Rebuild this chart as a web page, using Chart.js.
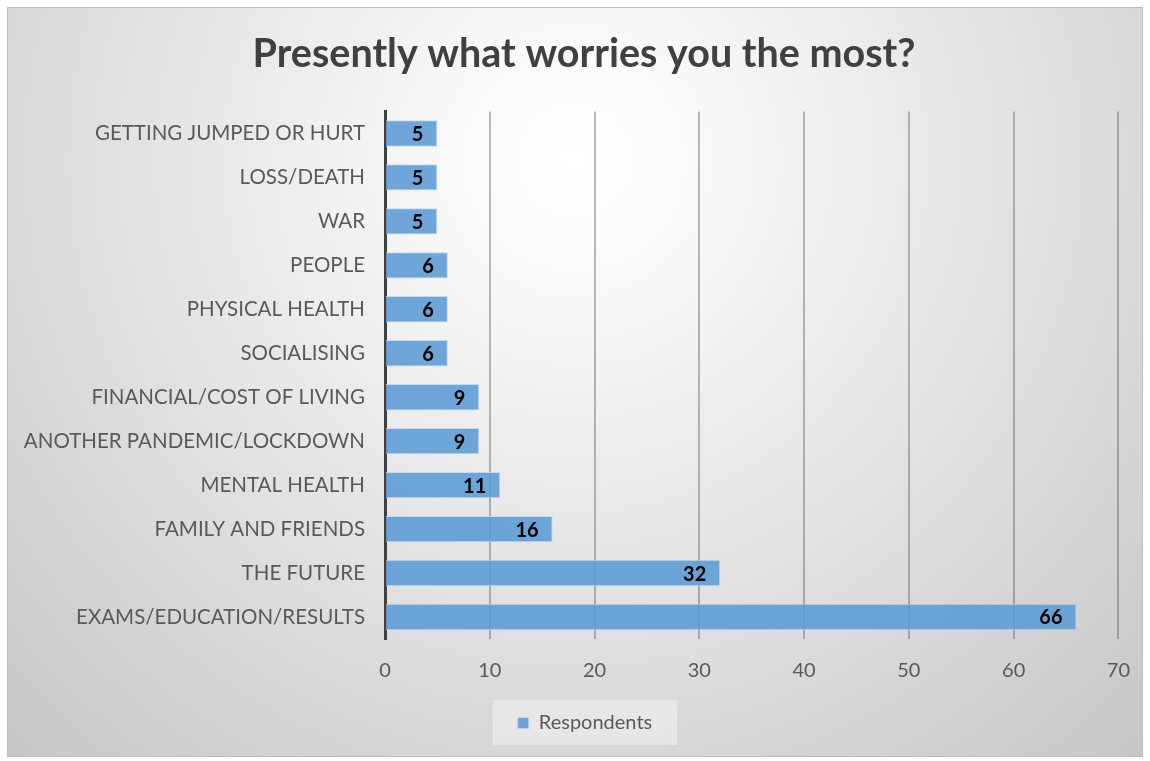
<!DOCTYPE html>
<html>
<head>
<meta charset="utf-8">
<script src="https://cdn.jsdelivr.net/npm/chart.js@4.4.0/dist/chart.umd.min.js"></script>
<style>
html,body{margin:0;padding:0;background:#fff;}
canvas{display:block;}
</style>
</head>
<body>
<canvas id="c" width="1150" height="761"></canvas>
<script>
const categories = [
  "GETTING JUMPED OR HURT",
  "LOSS/DEATH",
  "WAR",
  "PEOPLE",
  "PHYSICAL HEALTH",
  "SOCIALISING",
  "FINANCIAL/COST OF LIVING",
  "ANOTHER PANDEMIC/LOCKDOWN",
  "MENTAL HEALTH",
  "FAMILY AND FRIENDS",
  "THE FUTURE",
  "EXAMS/EDUCATION/RESULTS"
];
const respondents = [5, 5, 5, 6, 6, 6, 9, 9, 11, 16, 32, 66];
const seriesName = "Respondents";
const chartTitle = "Presently what worries you the most?";
const xMax = 70;
const xStep = 10;

const FONT = "Lato, 'Open Sans', sans-serif";
const TEXT = "#595959";

const bgPlugin = {
  id: 'bg',
  afterLayout(chart) {
    const lg = chart.legend;
    if (lg) { lg.left += 18; lg.right += 18; }
    const tb = chart.titleBlock;
    if (tb) { tb.left += 17; tb.right += 17; }
  },
  beforeDraw(chart) {
    const ctx = chart.ctx;
    ctx.save();
    ctx.fillStyle = '#ffffff';
    ctx.fillRect(0, 0, chart.width, chart.height);
    const g = ctx.createRadialGradient(575, 160, 0, 575, 160, 830);
    g.addColorStop(0, '#ffffff');
    g.addColorStop(0.12, '#fbfbfb');
    g.addColorStop(1, '#c6c6c6');
    ctx.fillStyle = g;
    ctx.fillRect(7, 7, 1136, 750);
    ctx.strokeStyle = '#bdbdbd';
    ctx.lineWidth = 1;
    ctx.strokeRect(7.5, 7.5, 1135, 749);
    const lg = chart.legend;
    if (lg && lg.legendHitBoxes && lg.legendHitBoxes.length) {
      const hb = lg.legendHitBoxes[0];
      ctx.fillStyle = 'rgba(235,235,235,0.75)';
      ctx.fillRect(hb.left - 25, hb.top - 13, hb.width + 50, hb.height + 25);
    }
    ctx.restore();
  }
};

const labelPlugin = {
  id: 'vals',
  afterDatasetsDraw(chart) {
    const ctx = chart.ctx;
    const meta = chart.getDatasetMeta(0);
    ctx.save();
    ctx.font = "bold 20px " + FONT;
    ctx.fillStyle = '#000000';
    ctx.textAlign = 'right';
    ctx.textBaseline = 'middle';
    meta.data.forEach((el, i) => {
      ctx.fillText(String(chart.data.datasets[0].data[i]), el.x - 14, el.y + 1);
    });
    ctx.restore();
  }
};

new Chart(document.getElementById('c'), {
  type: 'bar',
  data: {
    labels: categories,
    datasets: [{
      label: seriesName,
      data: respondents,
      backgroundColor: 'rgba(91,155,213,0.88)',
      borderColor: 'rgba(190,215,240,0.9)',
      borderWidth: 1,
      barPercentage: 0.6,
      categoryPercentage: 1.0
    }]
  },
  options: {
    indexAxis: 'y',
    responsive: false,
    animation: false,
    layout: { padding: { top: 7, left: 7, right: 23, bottom: 18 } },
    plugins: {
      title: {
        display: true,
        text: chartTitle,
        color: '#404040',
        font: { family: FONT, size: 39.5, weight: 'bold', lineHeight: 1.05 },
        padding: { top: 27, bottom: 36 }
      },
      legend: {
        display: true,
        position: 'bottom',
        labels: {
          color: TEXT,
          font: { family: FONT, size: 20 },
          boxWidth: 11,
          boxHeight: 11,
          padding: 10
        }
      },
      tooltip: { enabled: false }
    },
    scales: {
      x: {
        min: 0,
        max: xMax,
        ticks: { stepSize: xStep, color: TEXT, font: { family: FONT, size: 20 }, padding: 20 },
        grid: { color: 'rgba(90,90,90,0.42)', lineWidth: 2, drawTicks: false },
        border: { display: false },
        afterFit(s) { s.height = 64; }
      },
      y: {
        ticks: { color: TEXT, font: { family: FONT, size: 20.5 }, padding: 20, autoSkip: false },
        grid: { display: false, drawTicks: false },
        border: { display: true, color: '#404040', width: 3 },
        afterFit(s) { s.width = 378; }
      }
    }
  },
  plugins: [bgPlugin, labelPlugin]
});
</script>
</body>
</html>
